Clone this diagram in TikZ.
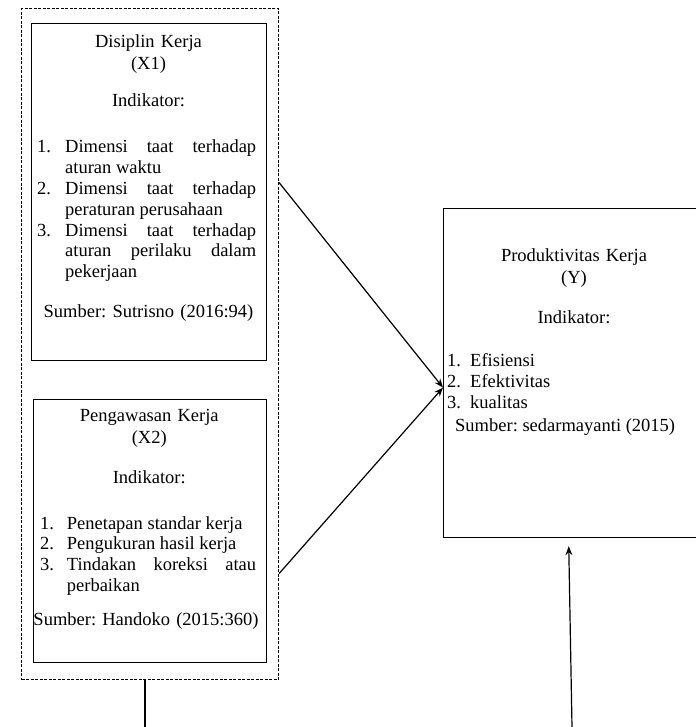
\documentclass[tikz,border=0pt]{standalone}
\usepackage{fontspec}
\setmainfont{Liberation Serif}
\frenchspacing
\usetikzlibrary{arrows.meta,calc}
\newlength{\lind}
\newcommand{\litem}[2]{\noindent\hangindent=\lind\hangafter=1\makebox[\lind][l]{#1}#2\par}
\begin{document}
\begin{tikzpicture}[x=1pt,y=-1pt,
  frame/.style={draw,line width=1.2pt,inner sep=0pt,anchor=north west},
  grp/.style={draw,line width=1.1pt,dash pattern=on 3pt off 1.5pt,inner sep=0pt,anchor=north west},
  txt/.style={inner sep=0pt,anchor=base,font=\fontsize{18.5}{22}\selectfont\frenchspacing,align=center,text width=230pt},
  lst/.style={inner sep=0pt,anchor=base west,font=\fontsize{18.5}{20.8}\selectfont\frenchspacing,align=justify},
  lft/.style={inner sep=0pt,anchor=base west,font=\fontsize{18.5}{20.8}\selectfont\frenchspacing},
  conn/.style={line width=1.2pt,-{Stealth[length=9pt,width=7pt]}},
  plain/.style={line width=1.2pt}
]
\useasboundingbox (0,0) rectangle (695,727);

% group (dashed) and frames
\node[grp,minimum width=257pt,minimum height=671pt] (grp) at (21,8) {};
\node[frame,minimum width=235pt,minimum height=337.3pt] (x1) at (31,22.7) {};
\node[frame,minimum width=232.7pt,minimum height=262.7pt] (x2) at (33,399) {};
\node[frame,minimum width=262pt,minimum height=329pt] (y) at (443,208) {};

% box X1 text
\node[txt] (x1t) at (148.5,47.5) {Disiplin Kerja\\(X1)};
\node[txt] (x1i) at (148.5,107) {Indikator:};
\node[lst,text width=219pt] (x1l) at (37,153) {\tolerance=10000\setlength{\lind}{28pt}%
\litem{1.}{Dimensi taat terhadap\linebreak aturan waktu}%
\litem{2.}{Dimensi taat terhadap\linebreak peraturan perusahaan}%
\litem{3.}{Dimensi taat terhadap\linebreak aturan perilaku dalam\linebreak pekerjaan}};
\node[txt] (x1s) at (148.5,317) {Sumber: Sutrisno (2016:94)};

% box X2 text
\node[txt] (x2t) at (149.3,421.7) {Pengawasan Kerja\\(X2)};
\node[txt] (x2i) at (149.3,483) {Indikator:};
\node[lst,text width=216pt] (x2l) at (40,529) {\tolerance=10000\setlength{\lind}{26.7pt}%
\litem{1.}{Penetapan standar kerja}%
\litem{2.}{Pengukuran hasil kerja}%
\litem{3.}{Tindakan koreksi atau\linebreak perbaikan}};
\node[txt] (x2s) at (146,625) {Sumber: Handoko (2015:360)};

% box Y text
\node[txt] (yt) at (574,261.7) {Produktivitas Kerja\\(Y)};
\node[txt] (yi) at (574,323) {Indikator:};
\node[lst,text width=200pt] (yl) at (447,366.7) {\setlength{\lind}{23pt}%
\litem{1.}{Efisiensi}%
\litem{2.}{Efektivitas}%
\litem{3.}{kualitas}};
\node[lft] (ys) at (455,431.7) {Sumber: sedarmayanti (2015)};

% connectors
\draw[conn] ([yshift=161.5pt]grp.east) -- ([yshift=-14.5pt]y.west);
\draw[conn] ([yshift=-229.5pt]grp.east) -- ([yshift=-14.5pt]y.west);
\coordinate (b1) at (145,727);
\draw[plain] (grp.south -| b1) -- (b1);
\coordinate (b2) at (572,727);
\draw[conn,shorten >=8pt] (b2) -- ([xshift=-6pt]y.south);
\end{tikzpicture}
\end{document}
